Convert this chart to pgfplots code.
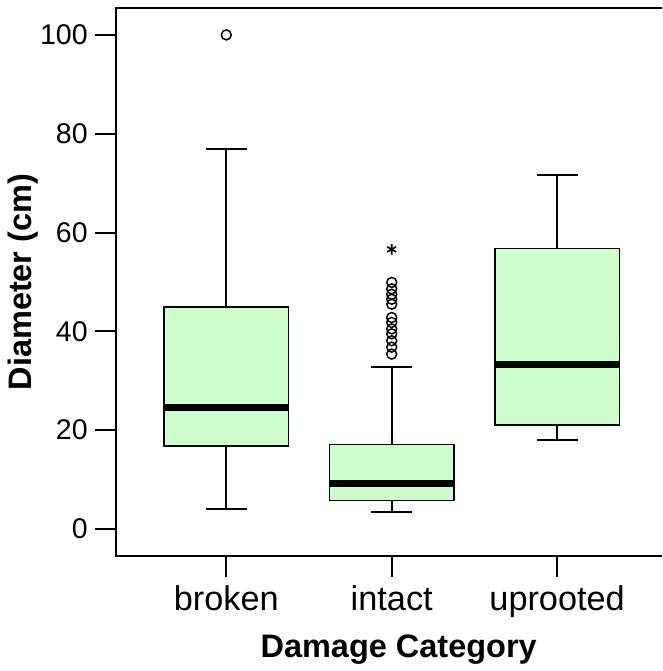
\documentclass[border=0pt]{standalone}
\usepackage{fontspec}
\setmainfont{Liberation Sans}
\usepackage{pgfplots}
\pgfplotsset{compat=1.18}
\definecolor{boxg}{RGB}{204,255,204}

\begin{document}
\begin{tikzpicture}
\begin{axis}[
  scale only axis, width=274pt, height=275pt,
  xmin=0.331, xmax=3.633, ymin=-5.5, ymax=105.45,
  axis line style={draw=none},
  xtick={1,2,3}, xticklabels={broken,intact,uprooted},
  ytick={0,20,40,60,80,100},
  xtick pos=left, ytick pos=left,
  tick align=outside, major tick length=10.5pt,
  tick style={line width=1pt, black},
  /pgf/number format/assume math mode=true,
  yticklabel style={font=\fontsize{14.3}{16}\selectfont},
  xticklabel style={font=\fontsize{17.2}{19}\selectfont, yshift=-1pt},
  ylabel={\bfseries Diameter (cm)},
  xlabel={\bfseries Damage Category},
  label style={font=\fontsize{16.3}{18}\selectfont},
  ylabel shift=-6pt, xlabel shift=1.5pt,
  xlabel style={xshift=5pt},
  clip=false,
  whisk/.style={black, line width=1pt, mark=none},
  bx/.style={fill=boxg, draw=black, line width=0.75pt, mark=none},
  med/.style={black, line width=3.5pt, mark=none},
  outl/.style={only marks, mark=o, mark size=2.5pt, mark options={line width=0.75pt}},
]
% broken
\addplot[whisk] coordinates {(1,4.0) (1,16.8)};
\addplot[whisk] coordinates {(1,44.9) (1,77.0)};
\addplot[whisk] coordinates {(0.8765,4.0) (1.1235,4.0)};
\addplot[whisk] coordinates {(0.8765,77.0) (1.1235,77.0)};
\addplot[bx] coordinates {(0.6235,16.8) (1.3765,16.8) (1.3765,44.9) (0.6235,44.9) (0.6235,16.8)} -- cycle;
\addplot[med] coordinates {(0.6235,24.6) (1.3765,24.6)};
\addplot[outl] coordinates {(1,100)};
% intact
\addplot[whisk] coordinates {(2,3.4) (2,5.8)};
\addplot[whisk] coordinates {(2,17.1) (2,32.8)};
\addplot[whisk] coordinates {(1.8765,3.4) (2.1235,3.4)};
\addplot[whisk] coordinates {(1.8765,32.8) (2.1235,32.8)};
\addplot[bx] coordinates {(1.6235,5.8) (2.3765,5.8) (2.3765,17.1) (1.6235,17.1) (1.6235,5.8)} -- cycle;
\addplot[med] coordinates {(1.6235,9.2) (2.3765,9.2)};
\addplot[outl] coordinates {(2,49.9) (2,48.6) (2,47.5) (2,46.5) (2,45.5) (2,42.8)
  (2,41.8) (2,40.5) (2,39.5) (2,38.1) (2,36.8) (2,35.4)};
\addplot[only marks, mark=asterisk, mark size=2.6pt, mark options={line width=0.8pt}]
  coordinates {(2,56.6)};
% uprooted
\addplot[whisk] coordinates {(3,18.0) (3,21.0)};
\addplot[whisk] coordinates {(3,56.8) (3,71.6)};
\addplot[whisk] coordinates {(2.8765,18.0) (3.1235,18.0)};
\addplot[whisk] coordinates {(2.8765,71.6) (3.1235,71.6)};
\addplot[bx] coordinates {(2.6235,21.0) (3.3765,21.0) (3.3765,56.8) (2.6235,56.8) (2.6235,21.0)} -- cycle;
\addplot[med] coordinates {(2.6235,33.2) (3.3765,33.2)};
\draw[line width=1pt] (rel axis cs:1,1) -- (rel axis cs:0,1) -- (rel axis cs:0,0) -- (rel axis cs:1,0);
\end{axis}
\path (-58pt,-56.5pt) rectangle (274pt,279pt);
\end{tikzpicture}
\end{document}
